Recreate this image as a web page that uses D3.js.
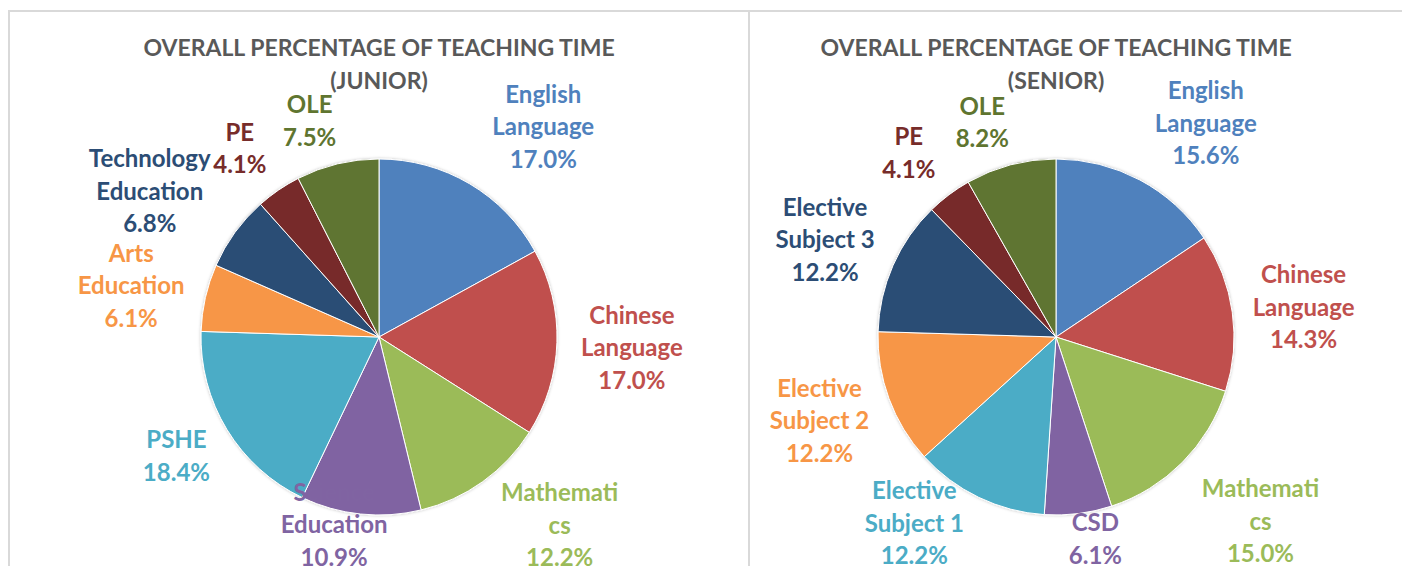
<!DOCTYPE html>
<html>
<head>
<meta charset="utf-8">
<script src="https://cdn.jsdelivr.net/npm/d3@7"></script>
<style>
  html, body { margin: 0; padding: 0; background: #fff; }
  svg { display: block; }
  text { font-family: Lato, "Open Sans", sans-serif; font-weight: bold; }
</style>
</head>
<body>
<div id="chart"></div>
<script>
// data
const juniorSubjects = ['English Language', 'Chinese Language', 'Mathematics', 'Science Education', 'PSHE',
    'Arts Education', 'Technology Education', 'PE', 'OLE'];
const juniorValues = [17.0, 17.0, 12.2, 10.9, 18.4, 6.1, 6.8, 4.1, 7.5];
const juniorLabelLines = [['English', 'Language'], ['Chinese', 'Language'], ['Mathemati', 'cs'], ['Science', 'Education'],
    ['PSHE'], ['Arts', 'Education'], ['Technology', 'Education'], ['PE'], ['OLE']];

const seniorSubjects = ['English Language', 'Chinese Language', 'Mathematics', 'CSD', 'Elective Subject 1',
    'Elective Subject 2', 'Elective Subject 3', 'PE', 'OLE'];
const seniorValues = [15.6, 14.3, 15.0, 6.1, 12.2, 12.2, 12.2, 4.1, 8.2];
const seniorLabelLines = [['English', 'Language'], ['Chinese', 'Language'], ['Mathemati', 'cs'], ['CSD'],
    ['Elective', 'Subject 1'], ['Elective', 'Subject 2'], ['Elective', 'Subject 3'], ['PE'], ['OLE']];

const titleText = 'OVERALL PERCENTAGE OF TEACHING TIME';
const juniorTag = '(JUNIOR)';
const seniorTag = '(SENIOR)';

// office palette
const colors = ['#4F81BD', '#C0504D', '#9BBB59', '#8064A2', '#4BACC6', '#F79646', '#2C4D75', '#772C2A', '#5F7530'];

// label nudges from the "best fit" spot (px)
const juniorNudge = [[37, 4], [3, 2], [35, -16], [-19, -62], [11, -12], [-4, 3], [-27, 0], [2, 17], [-11, 26]];
const seniorNudge = [[32, 6], [0, 4], [27, 7], [8, -47], [-33, -40], [-2, -4], [-2, 2], [3, 15], [-10, 26]];

const width = 1402, height = 566;
const radius = 178;
const labelRadius = 250;
const lineH = 32.5;

const svg = d3.select('#chart').append('svg')
    .attr('width', width)
    .attr('height', height);

const defs = svg.append('defs');
defs.append('filter')
    .attr('id', 'shadow')
    .attr('x', '-10%').attr('y', '-10%').attr('width', '120%').attr('height', '120%')
    .append('feDropShadow')
    .attr('dx', 0).attr('dy', 0)
    .attr('stdDeviation', 1.5)
    .attr('flood-color', '#000')
    .attr('flood-opacity', 0.25);

// frame lines
svg.append('line')
    .attr('x1', 8).attr('x2', width).attr('y1', 11).attr('y2', 11)
    .style('stroke', '#d9d9d9').style('stroke-width', 2);
svg.append('line')
    .attr('x1', 9).attr('x2', 9).attr('y1', 10).attr('y2', height)
    .style('stroke', '#d9d9d9').style('stroke-width', 2);
svg.append('line')
    .attr('x1', 749).attr('x2', 749).attr('y1', 10).attr('y2', height)
    .style('stroke', '#d9d9d9').style('stroke-width', 2);

function drawPie(cx, cy, values, subjects, labelLines, nudge, tag) {
    let g = svg.append('g').attr('transform', `translate(${cx}, ${cy})`);

    // title, two lines
    [titleText, tag].forEach((t, k) => {
        g.append('text')
            .text(t)
            .attr('y', 47 + k * 33 - cy)
            .attr('text-anchor', 'middle')
            .attr('dominant-baseline', 'central')
            .style('font-size', '23px')
            .style('fill', '#595959');
    });

    let pie = d3.pie().sort(null).value(d => d)(values);
    let arc = d3.arc().innerRadius(0).outerRadius(radius);
    let labelArc = d3.arc().innerRadius(labelRadius).outerRadius(labelRadius);

    g.append('g')
        .attr('filter', 'url(#shadow)')
        .selectAll('path')
        .data(pie)
        .enter()
        .append('path')
        .attr('d', arc)
        .attr('fill', (d, i) => colors[i])
        .attr('stroke', '#fff')
        .attr('stroke-width', 1)
        .append('title')
        .text((d, i) => subjects[i]);

    // labels on top, later ones paint over earlier ones (PE over Technology)
    let labels = g.selectAll('g.label')
        .data(pie)
        .enter()
        .append('g')
        .classed('label', true)
        .attr('transform', (d, i) => {
            let c = labelArc.centroid(d);
            return `translate(${c[0] + nudge[i][0]}, ${c[1] + nudge[i][1]})`;
        });

    labels.each(function (d, i) {
        let lines = labelLines[i].concat([values[i].toFixed(1) + '%']);
        let self = d3.select(this);
        lines.forEach((t, k) => {
            self.append('text')
                .text(t)
                .attr('y', (k - (lines.length - 1) / 2) * lineH)
                .attr('text-anchor', 'middle')
                .attr('dominant-baseline', 'central')
                .style('font-size', '24px')
                .style('fill', colors[i]);
        });
    });
}

drawPie(379, 337, juniorValues, juniorSubjects, juniorLabelLines, juniorNudge, juniorTag);
drawPie(1056, 337, seniorValues, seniorSubjects, seniorLabelLines, seniorNudge, seniorTag);
</script>
</body>
</html>
